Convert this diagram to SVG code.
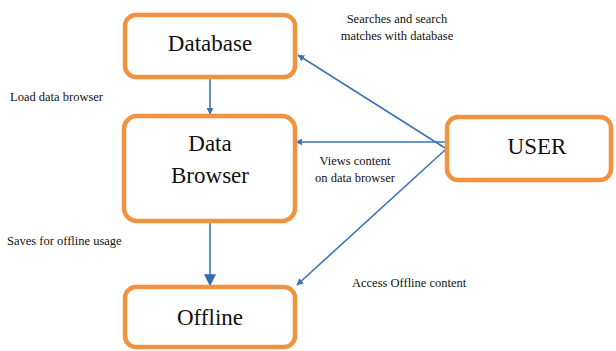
<svg xmlns="http://www.w3.org/2000/svg" width="616" height="351" viewBox="0 0 616 351">
<style>
.box{fill:#fff;stroke:#F0923F;stroke-width:4.5}
.t{font-family:'Liberation Serif','Times New Roman',serif;fill:#111;text-anchor:middle}
.big{font-size:23px}
.small{font-size:12.5px}
.c{stroke:#3D73B8;stroke-width:1.6;fill:none}
</style>
<defs>
<marker id="ah" viewBox="0 0 10 10" refX="9" refY="5" markerWidth="7" markerHeight="7" orient="auto" markerUnits="userSpaceOnUse">
<path d="M0,0 L10,5 L0,10 z" fill="#3D73B8"/>
</marker>
<marker id="ah2" viewBox="0 0 10 10" refX="9" refY="5" markerWidth="12" markerHeight="12" orient="auto" markerUnits="userSpaceOnUse">
<path d="M0,0 L10,5 L0,10 z" fill="#2F6DB5"/>
</marker>
</defs>
<rect width="616" height="351" fill="#fff"/>
<g id="connectors">
<line class="c" x1="210" y1="79" x2="210" y2="114" marker-end="url(#ah)"/>
<line class="c" x1="210" y1="223" x2="210" y2="285" stroke-width="3" marker-end="url(#ah2)"/>
<line class="c" x1="445" y1="148" x2="298" y2="55" marker-end="url(#ah)"/>
<line class="c" x1="445" y1="142" x2="296" y2="142" marker-end="url(#ah)"/>
<line class="c" x1="445" y1="150" x2="297" y2="285" marker-end="url(#ah)"/>
<text class="t small" x="397" y="23">Searches and search</text>
<text class="t small" x="397" y="40">matches with database</text>
<text class="t small" x="355" y="165">Views content</text>
<text class="t small" x="355" y="182">on data browser</text>
<text class="t small" x="10" y="101" style="text-anchor:start">Load data browser</text>
<text class="t small" x="7" y="245" style="text-anchor:start">Saves for offline usage</text>
<text class="t small" x="352" y="287" style="text-anchor:start">Access Offline content</text>
</g>
<g id="database">
<rect class="box" x="125" y="15" width="170" height="62" rx="11"/>
<text class="t big" x="210" y="51">Database</text>
</g>
<g id="databrowser">
<rect class="box" x="124" y="116" width="171" height="105" rx="13"/>
<text class="t big" x="210" y="151">Data</text>
<text class="t big" x="210" y="183">Browser</text>
</g>
<g id="offline">
<rect class="box" x="125" y="287" width="170" height="60" rx="11"/>
<text class="t big" x="210" y="325">Offline</text>
</g>
<g id="user">
<rect class="box" x="447" y="117" width="164" height="63" rx="11"/>
<text class="t big" x="537" y="154">USER</text>
</g>
</svg>
